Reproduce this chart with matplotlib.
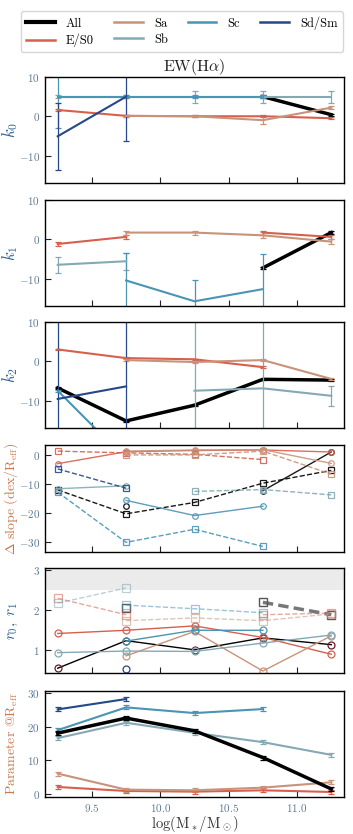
import numpy as np
import matplotlib
matplotlib.use("Agg")
import matplotlib.pyplot as plt

plt.rcParams['font.family'] = 'serif'
plt.rcParams['font.serif'] = ['cmr10', 'DejaVu Serif']
plt.rcParams['mathtext.fontset'] = 'cm'
plt.rcParams['axes.formatter.use_mathtext'] = True
plt.rcParams['axes.unicode_minus'] = True

nan = np.nan
mass = [9.25, 9.75, 10.25, 10.75, 11.25]
groups = ['All', 'E/S0', 'Sa', 'Sb', 'Sc', 'Sd/Sm']
colors = ['black', '#d6604d', '#c8937a', '#84a9b5', '#4a94b4', '#26478a']

# k0 per group, with errors
k0 = {'All': [nan, nan, nan, 5.0, 0.4],
      'E/S0': [1.6, 0.1, 0.0, 0.0, -0.5],
      'Sa': [nan, 0.1, 0.0, -1.0, 2.2],
      'Sb': [5.0, 5.0, 5.0, 5.0, 5.0],
      'Sc': [5.0, 5.0, 5.0, 5.0, nan],
      'Sd/Sm': [-5.1, 5.0, nan, nan, nan]}
k0_err = {'All': [0, 0, 0, 0.3, 0.3],
          'E/S0': [0.3, 0.3, 0.3, 0.3, 0.3],
          'Sa': [0, 0.3, 0.3, 1.0, 0.3],
          'Sb': [0.3, 0.3, 1.5, 1.5, 1.5],
          'Sc': [8.0, 0.3, 0.3, 0.3, 0],
          'Sd/Sm': [8.5, 11.3, 0, 0, 0]}

# k1
k1 = {'All': [nan, nan, nan, -7.3, 1.7],
      'E/S0': [-1.2, 0.6, nan, 1.7, 0.6],
      'Sa': [nan, 1.7, 1.7, 1.0, -0.6],
      'Sb': [-6.5, -5.6, nan, nan, nan],
      'Sc': [nan, -10.5, -15.8, -12.7, nan],
      'Sd/Sm': [nan, nan, nan, nan, nan]}
k1_err = {'All': [0, 0, 0, 0.3, 0.3],
          'E/S0': [0.5, 0.5, 0, 0.5, 0.5],
          'Sa': [0, 0.5, 0.5, 0.8, 0.6],
          'Sb': [2.0, 2.2, 0, 0, 0],
          'Sc': [0, 7.0, 5.5, 9.0, 0],
          'Sd/Sm': [0, 0, 0, 0, 0]}

# k2
k2 = {'All': [-6.8, -15.2, -11.2, -4.6, -4.8],
      'E/S0': [3.0, 0.8, 0.5, -1.5, nan],
      'Sa': [nan, 0.3, -0.2, 0.3, -4.5],
      'Sb': [nan, nan, -7.5, -6.9, -8.8],
      'Sc': [-7.5, -25.0, nan, nan, nan],
      'Sd/Sm': [-9.6, -6.4, nan, nan, nan]}
k2_err = {'All': [0.2, 0.2, 0.2, 0.2, 0.2],
          'E/S0': [0.2, 0.2, 0.2, 0.2, 0],
          'Sa': [0, 0.2, 0.2, 0.2, 0.2],
          'Sb': [0, 0, 30, 30, 2.5],
          'Sc': [0.3, 0.3, 0, 0, 0],
          'Sd/Sm': [30, 30, 0, 0, 0]}

# Delta slope: inner (circles, solid) and outer (squares, dashed)
ds_in = {'All': [nan, -17.5, nan, -12.3, 1.0],
         'E/S0': [-3.0, 1.1, 1.5, 1.7, 1.0],
         'Sa': [nan, 1.3, 1.7, 1.8, -2.9],
         'Sb': [-11.6, -10.6, nan, -12.2, nan],
         'Sc': [nan, -15.6, -20.8, -17.6, nan],
         'Sd/Sm': [nan, nan, nan, nan, nan]}
ds_out = {'All': [-12.0, -20.2, -16.3, -9.7, -5.3],
          'E/S0': [1.3, 0.7, 0.2, -1.6, nan],
          'Sa': [nan, 0.0, 0.0, 1.3, -6.6],
          'Sb': [nan, nan, -12.5, -11.9, -13.7],
          'Sc': [-12.8, -30.0, -25.5, -31.4, nan],
          'Sd/Sm': [-4.8, -11.4, nan, nan, nan]}

# r0 (circles, solid) and r1 (squares, dashed)
r0 = {'All': [0.54, 1.23, 1.0, 1.3, 1.13],
      'E/S0': [1.41, 1.49, 1.6, 1.31, 0.89],
      'Sa': [nan, 0.85, 1.46, 0.47, 1.35],
      'Sb': [0.93, 0.97, 0.96, 1.17, 1.37],
      'Sc': [nan, 1.22, 1.49, 1.49, nan],
      'Sd/Sm': [nan, 0.53, nan, nan, nan]}
r1 = {'All': [nan, 2.04, nan, 2.19, 1.88],
      'E/S0': [2.29, 1.88, nan, 1.88, 1.92],
      'Sa': [nan, 1.73, 1.8, 1.73, 1.9],
      'Sb': [2.17, 2.55, nan, nan, nan],
      'Sc': [nan, 2.12, 2.03, 1.93, nan],
      'Sd/Sm': [nan, nan, nan, nan, nan]}

# parameter at Reff
preff = {'All': [18.1, 22.6, 18.8, 10.8, 1.4],
         'E/S0': [2.0, 0.8, 0.6, 1.0, 0.5],
         'Sa': [6.0, 1.2, 1.0, 1.8, 3.4],
         'Sb': [16.6, 21.2, 18.2, 15.4, 11.6],
         'Sc': [19.0, 25.8, 24.1, 25.3, nan],
         'Sd/Sm': [25.2, 28.3, nan, nan, nan]}
preff_err = 0.6

fig = plt.figure(figsize=(3.53, 8.34), dpi=100)
W, H = 353.0, 834.0
left, right = 45 / W, 344 / W
panels_px = [(77, 183), (200, 306), (322, 428), (445, 552), (568, 673), (691, 797)]
axes = []
for top, bot in panels_px:
    ax = fig.add_axes([left, 1 - bot / H, right - left, (bot - top) / H])
    axes.append(ax)

lab_col = '#2f5f8f'
warm_col = '#c87850'


def err_panel(ax, vals, errs, lw_all=2.5):
    for g, c in zip(groups, colors):
        lw = lw_all if g == 'All' else 1.5
        z = 1 if g == 'All' else 2
        ax.errorbar(mass, vals[g], yerr=errs[g], color=c, lw=lw, elinewidth=0.9,
                    capsize=2.5, capthick=0.9, zorder=z)


err_panel(axes[0], k0, k0_err)
err_panel(axes[1], k1, k1_err)
err_panel(axes[2], k2, k2_err)
for ax in axes[:3]:
    ax.set_ylim(-17, 10)
    ax.set_yticks([-10, 0, 10])
axes[0].set_title(r'EW(H$\alpha$)', fontsize=11.5, pad=3, color='#222222')
axes[0].set_ylabel(r'$k_0$', fontsize=12, color=lab_col)
axes[1].set_ylabel(r'$k_1$', fontsize=12, color=lab_col)
axes[2].set_ylabel(r'$k_2$', fontsize=12, color=lab_col)

# Delta slope
ax = axes[3]
for g, c in zip(groups, colors):
    ax.plot(mass, ds_in[g], '-', color=c, lw=1.0, marker='o', ms=4, mfc='none', mew=0.9,
            alpha=0.9)
    ax.plot(mass, ds_out[g], '--', color=c, lw=1.0, marker='s', ms=4.5, mfc='none', mew=0.9,
            alpha=0.9)
ax.set_ylim(-33.3, 3.4)
ax.set_yticks([-30, -20, -10, 0])
ax.set_ylabel(r'$\Delta$ slope (dex/R$_{\rm eff}$)', fontsize=10, color=warm_col)

# r0, r1
ax = axes[4]
ax.axhspan(2.5, 3.2, color='#ebebeb', lw=0, zorder=0)
for g, c in zip(groups, colors):
    mec = '#6b1a2a' if g == 'All' else c
    ax.plot(mass, r0[g], '-', color=c, lw=1.0, marker='o', ms=5, mfc='none', mec=mec, mew=0.9)
    if g == 'All':
        ax.plot(mass, r1[g], '--', color='#777777', lw=2.5, marker='s', ms=6, mfc='none',
                mec='#555555', mew=1.0, dashes=(3, 1.5))
    else:
        ax.plot(mass, r1[g], '--', color=c, lw=1.0, marker='s', ms=6, mfc='none', mew=0.9,
                alpha=0.55)
ax.set_ylim(0.42, 3.05)
ax.set_yticks([1, 2, 3])
ax.set_ylabel(r'$r_0,\ r_1$', fontsize=11, color=lab_col)

# parameter at Reff
ax = axes[5]
for g, c in zip(groups, colors):
    lw = 2.5 if g == 'All' else 1.5
    ax.errorbar(mass, preff[g], yerr=preff_err, color=c, lw=lw, elinewidth=0.9,
                capsize=2.5, capthick=0.9, zorder=3 if g == 'All' else 2)
ax.set_ylim(-1, 30.7)
ax.set_yticks([0, 10, 20, 30])
ax.set_ylabel(r'Parameter @R$_{\rm eff}$', fontsize=10, color=warm_col)
ax.set_xlabel(r'$\log(\mathrm{M_*/M_\odot})$', fontsize=10.5, color='#333333', labelpad=0)

for i, ax in enumerate(axes):
    ax.set_xlim(9.157, 11.343)
    ax.set_xticks([9.5, 10.0, 10.5, 11.0])
    ax.tick_params(direction='in', length=4, width=0.8, labelsize=8, colors='#222222',
                   labelcolor='#5b7894', top=False, right=False)
    if i < 5:
        ax.tick_params(labelbottom=False)
    for s in ax.spines.values():
        s.set_linewidth(1.0)
    ax.yaxis.set_label_coords(-0.085, 0.5)

handles = [plt.Line2D([], [], color=c, lw=3 if g == 'All' else 1.8) for g, c in zip(groups, colors)]
fig.legend(handles, groups, loc='upper center', bbox_to_anchor=(0.515, 0.994), ncol=4,
           fontsize=9, handlelength=2.3, columnspacing=1.6, handletextpad=0.9,
           labelspacing=0.3, borderpad=0.4, frameon=True, edgecolor='#cccccc', fancybox=True)

fig.savefig('out.png', dpi=100)
